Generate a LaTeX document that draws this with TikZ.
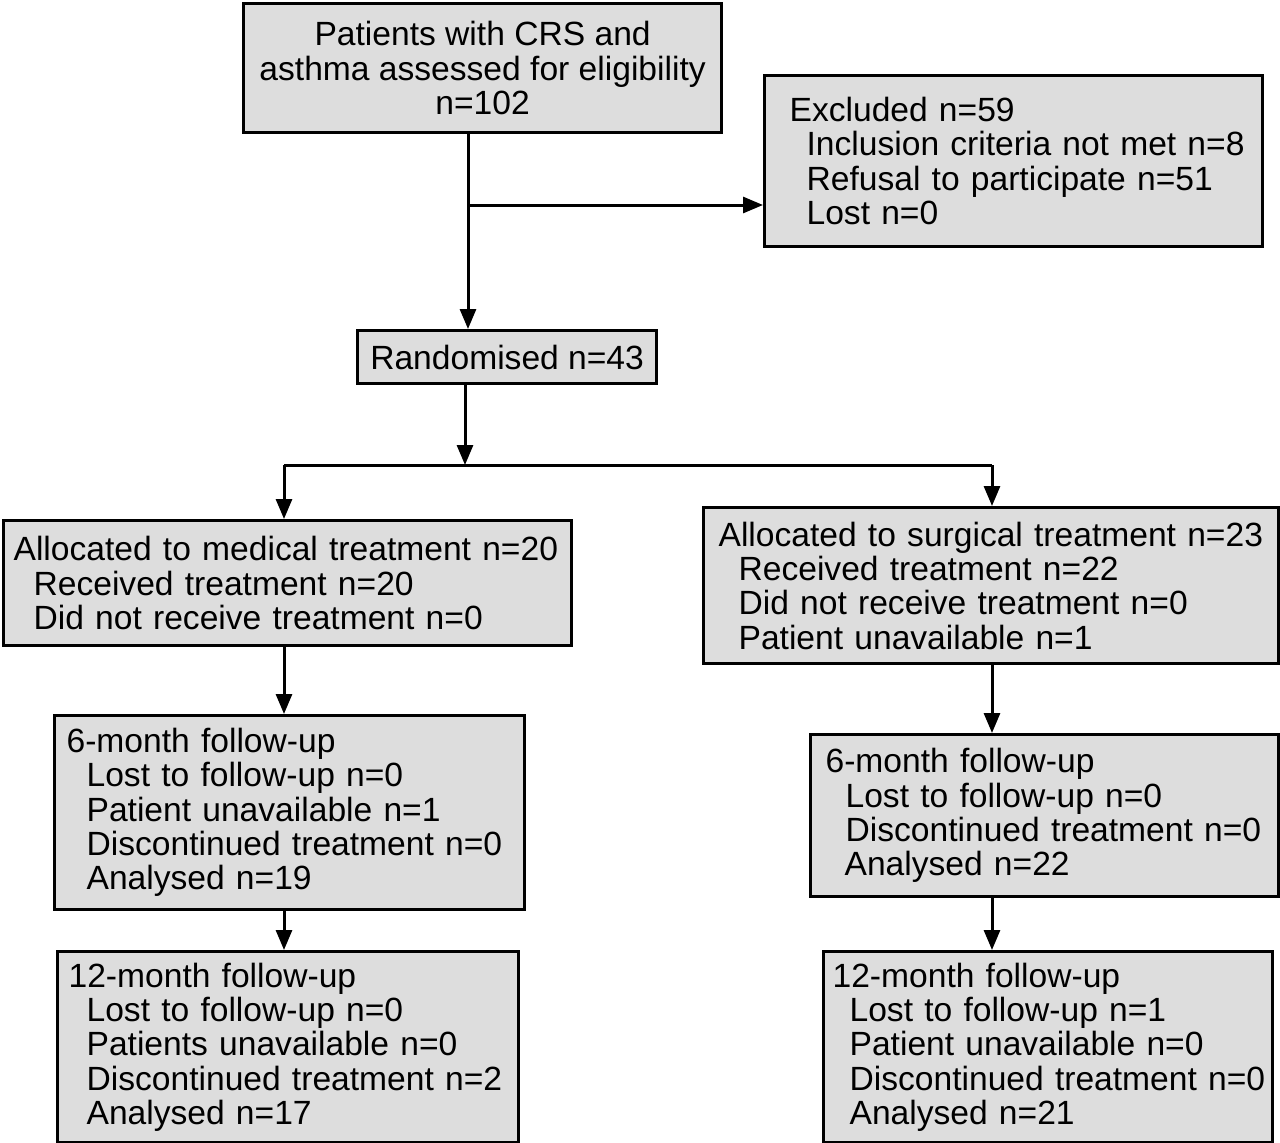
\documentclass[tikz,border=0pt]{standalone}
\usepackage{fontspec}
\setmainfont{Liberation Sans}
\usetikzlibrary{arrows.meta}
\definecolor{boxgray}{RGB}{221,221,221}
\newcommand{\hs}[1]{\hspace*{#1pt}}
\tikzset{
  box/.style={draw=black, line width=3.2pt, fill=boxgray, rectangle, anchor=north west,
    font=\fontsize{33.6}{34.3}\selectfont, inner ysep=0pt, inner xsep=0pt},
  lbox/.style 2 args={box, minimum width=#1, minimum height=#2, text width=#1, align=left},
  cbox/.style 2 args={box, minimum width=#1, minimum height=#2, align=center},
  arr/.style={line width=3pt, -{Triangle[length=20pt,width=16pt]}},
  ln/.style={line width=3pt}
}
\begin{document}
\begin{tikzpicture}[x=1pt,y=-1pt]
\useasboundingbox (0,0) rectangle (1280,1143);
\node[cbox={478pt}{129pt}] (top) at (242,2)
  {Patients with CRS and\\asthma assessed for eligibility\\n=102};
\node[lbox={498pt}{171pt}] (excl) at (763,74)
  {\hs{25}Excluded n=59\\\hs{42}Inclusion criteria not met n=8\\\hs{42}Refusal to participate n=51\\\hs{42}Lost n=0};
\node[cbox={299pt}{53pt}] (rand) at (356,329) {Randomised n=43};
\node[lbox={568pt}{125pt}] (med) at (2,519)
  {\hs{10}Allocated to medical treatment n=20\\\hs{30}Received treatment n=20\\\hs{30}Did not receive treatment n=0};
\node[lbox={575pt}{156pt}] (surg) at (702,506)
  {\hs{15}Allocated to surgical treatment n=23\\\hs{35}Received treatment n=22\\\hs{35}Did not receive treatment n=0\\\hs{35}Patient unavailable n=1};
\node[lbox={470pt}{194pt}] (m6) at (53,714)
  {\hs{12}6-month follow-up\\\hs{32}Lost to follow-up n=0\\\hs{32}Patient unavailable n=1\\\hs{32}Discontinued treatment n=0\\\hs{32}Analysed n=19};
\node[lbox={468pt}{162pt}] (s6) at (809,733)
  {\hs{15}6-month follow-up\\\hs{35}Lost to follow-up n=0\\\hs{35}Discontinued treatment n=0\\\hs{34}Analysed n=22};
\node[lbox={461pt}{191pt}] (m12) at (56,950)
  {\hs{11}12-month follow-up\\\hs{29}Lost to follow-up n=0\\\hs{29}Patients unavailable n=0\\\hs{29}Discontinued treatment n=2\\\hs{29}Analysed n=17};
\node[lbox={449pt}{191pt}] (s12) at (822,950)
  {\hs{9}12-month follow-up\\\hs{26}Lost to follow-up n=1\\\hs{26}Patient unavailable n=0\\\hs{26}Discontinued treatment n=0\\\hs{26}Analysed n=21};
% connector coordinates
\coordinate (xa) at (468,0);
\coordinate (j1) at (468,205);
\coordinate (xr) at (465,0);
\coordinate (sp) at (465,465);
\coordinate (spl) at (284,465);
\coordinate (spr) at (992,465);
\draw[arr] (top.south -| xa) -- (rand.north -| xa);
\draw[arr] (j1) -- (j1 -| excl.west);
\draw[arr] (rand.south -| xr) -- (sp);
\draw[ln] (spl) -- (spr);
\draw[arr] (spl) -- (med.north -| spl);
\draw[arr] (spr) -- (surg.north -| spr);
\draw[arr] (med.south -| spl) -- (m6.north -| spl);
\draw[arr] (m6.south -| spl) -- (m12.north -| spl);
\draw[arr] (surg.south -| spr) -- (s6.north -| spr);
\draw[arr] (s6.south -| spr) -- (s12.north -| spr);
\end{tikzpicture}
\end{document}
